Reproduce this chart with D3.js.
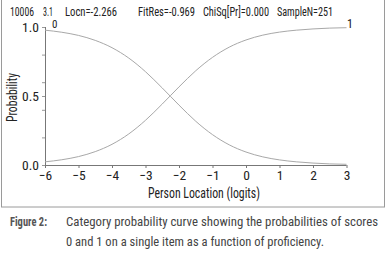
<!DOCTYPE html>
<html>
<head>
<meta charset="utf-8">
<script src="https://cdn.jsdelivr.net/npm/d3@7"></script>
<style>
body { margin: 0; background: #fff; }
svg text { font-family: "Liberation Sans Narrow", "Roboto Condensed", "Arial Narrow", sans-serif; }
</style>
</head>
<body>
<div id="chart"></div>
<script>
var width = 386,
    height = 254

// data
var logits = [-6, -5.5, -5, -4.5, -4, -3.5, -3, -2.5, -2, -1.5, -1, -0.5, 0, 0.5, 1, 1.5, 2, 2.5, 3]
var score0 = [0.977, 0.962, 0.939, 0.903, 0.850, 0.775, 0.676, 0.558, 0.434, 0.317, 0.220, 0.146, 0.094, 0.059, 0.037, 0.023, 0.014, 0.008, 0.005]
var score1 = [0.023, 0.038, 0.061, 0.097, 0.150, 0.225, 0.324, 0.442, 0.566, 0.683, 0.780, 0.854, 0.906, 0.941, 0.963, 0.977, 0.986, 0.992, 0.995]
var xticks = [-6, -5, -4, -3, -2, -1, 0, 1, 2, 3]
var yticks = [0, 0.2, 0.4, 0.5, 0.6, 0.8, 1]
var ylabels = [0, 0.5, 1]
// header items: text, left x, width
var header = [['10006', 10, 24], ['3.1', 43, 10], ['Locn=-2.266', 65, 52], ['FitRes=-0.969', 138, 57], ['ChiSq[Pr]=0.000', 203, 66], ['SampleN=251', 277, 56]]

var svg = d3.select('#chart')
    .append('svg')
    .attr('width', width)
    .attr('height', height)

// frame
svg.append('rect')
    .attr('x', 1.5).attr('y', -1)
    .attr('width', 383).attr('height', 208)
    .attr('fill', 'none')
    .attr('stroke', '#9a9a9a')

// scales
var xscale = d3.scaleLinear().domain([-6, 3]).range([45, 346.5])
var yscale = d3.scaleLinear().domain([0, 1]).range([165, 27])

// header line
svg.selectAll('.hdr')
    .data(header)
    .enter()
    .append('text')
    .attr('class', 'hdr')
    .attr('x', d => d[1])
    .attr('y', 15.5)
    .attr('font-size', 12)
    .attr('textLength', d => d[2])
    .attr('lengthAdjust', 'spacingAndGlyphs')
    .attr('fill', '#222')
    .text(d => d[0])

// axes
var xaxis = d3.axisBottom(xscale).tickValues(xticks).tickSize(3).tickPadding(2).tickFormat(d3.format('d'))
var gx = svg.append('g')
    .attr('transform', 'translate(0,165)')
    .call(xaxis)
gx.select('.domain').attr('stroke', '#777').attr('d', 'M45.5,0.5H346.5')
gx.selectAll('line').attr('stroke', '#777')
gx.selectAll('text').attr('font-size', 13.5).attr('fill', '#222')
    .style('font-family', '"Liberation Sans Narrow", "Roboto Condensed", sans-serif')

var yaxis = d3.axisLeft(yscale).tickValues(yticks).tickSize(3).tickPadding(3)
    .tickFormat(d => ylabels.indexOf(d) >= 0 ? d3.format('.1f')(d) : '')
var gy = svg.append('g')
    .attr('transform', 'translate(45,0)')
    .call(yaxis)
gy.select('.domain').attr('stroke', '#777').attr('d', 'M0.5,27V165')
gy.selectAll('line').attr('stroke', '#999')
gy.selectAll('text').attr('font-size', 13.5).attr('fill', '#222')
    .style('font-family', '"Liberation Sans Narrow", "Roboto Condensed", sans-serif')

// curves
var line = d3.line()
    .x((d, i) => xscale(logits[i]))
    .y(d => yscale(d))
    .curve(d3.curveMonotoneX)

svg.selectAll('.curve')
    .data([score0, score1])
    .enter()
    .append('path')
    .attr('class', 'curve')
    .attr('d', line)
    .attr('fill', 'none')
    .attr('stroke', '#a8a8a8')
    .attr('stroke-width', 1)

// curve labels
svg.append('text').attr('x', 52).attr('y', 27.5).attr('font-size', 11).attr('fill', '#222').text('0')
svg.append('text').attr('x', 347).attr('y', 28).attr('font-size', 12).attr('fill', '#222').text('1')

// axis titles
svg.append('text')
    .attr('x', 148).attr('y', 197.5)
    .attr('font-size', 14)
    .attr('textLength', 112)
    .attr('lengthAdjust', 'spacingAndGlyphs')
    .attr('fill', '#222')
    .text('Person Location (logits)')

svg.append('text')
    .attr('transform', 'translate(17,122) rotate(-90)')
    .attr('font-size', 14)
    .attr('textLength', 49)
    .attr('lengthAdjust', 'spacingAndGlyphs')
    .attr('fill', '#222')
    .text('Probability')

// caption
svg.append('text')
    .attr('x', 10).attr('y', 226)
    .attr('font-size', 13)
    .attr('font-weight', 'bold')
    .attr('textLength', 37)
    .attr('lengthAdjust', 'spacingAndGlyphs')
    .attr('fill', '#555')
    .text('Figure 2:')
svg.append('text')
    .attr('x', 66).attr('y', 226)
    .attr('font-size', 12.5)
    .attr('textLength', 312)
    .attr('lengthAdjust', 'spacingAndGlyphs')
    .attr('fill', '#444')
    .text('Category probability curve showing the probabilities of scores')
svg.append('text')
    .attr('x', 66).attr('y', 245.5)
    .attr('font-size', 12.5)
    .attr('textLength', 258)
    .attr('lengthAdjust', 'spacingAndGlyphs')
    .attr('fill', '#444')
    .text('0 and 1 on a single item as a function of proficiency.')
</script>
</body>
</html>
